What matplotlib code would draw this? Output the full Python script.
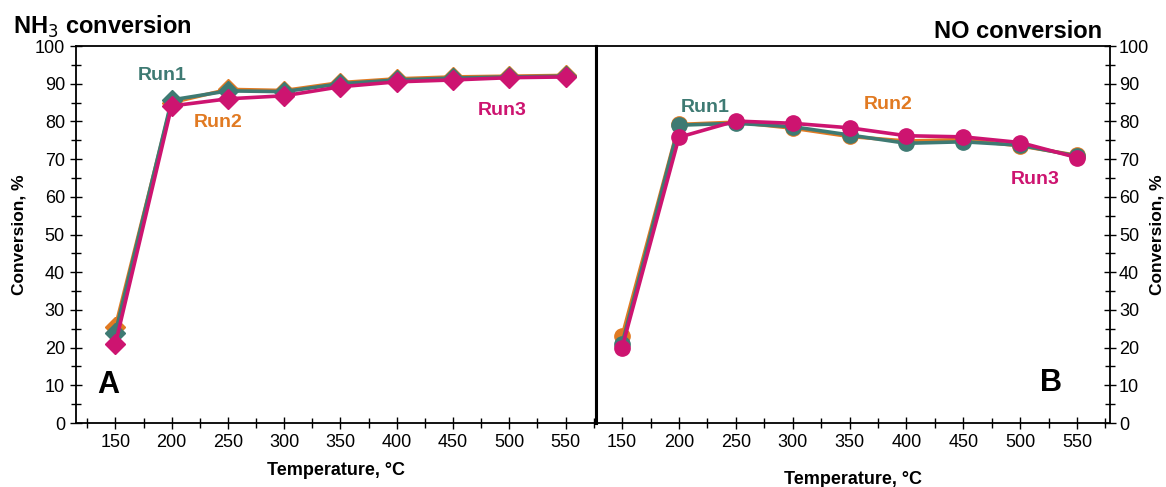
import matplotlib.pyplot as plt
from matplotlib.ticker import MultipleLocator

temps = [150, 200, 250, 300, 350, 400, 450, 500, 550]

nh3_run1 = [24.0, 85.7, 88.1, 87.9, 90.0, 91.0, 91.5, 91.8, 92.0]
nh3_run2 = [25.5, 85.0, 88.5, 88.2, 90.3, 91.3, 91.8, 92.0, 92.2]
nh3_run3 = [21.0, 84.1, 86.0, 86.8, 89.2, 90.5, 91.0, 91.6, 91.8]

no_run1 = [21.0, 79.0, 79.5, 78.6, 76.4, 74.2, 74.6, 73.7, 70.8]
no_run2 = [23.0, 79.2, 79.8, 78.2, 76.0, 74.8, 75.2, 73.5, 71.0]
no_run3 = [20.0, 75.8, 80.1, 79.5, 78.3, 76.2, 75.9, 74.4, 70.4]

run_labels = ["Run1", "Run2", "Run3"]

TEAL = "#3e7a73"
ORANGE = "#e17a22"
MAGENTA = "#cd1470"

plt.rcParams["font.family"] = ["Liberation Sans", "DejaVu Sans"]
BOLD = ["Liberation Sans", "DejaVu Sans"]

fig = plt.figure(figsize=(11.66, 4.87), dpi=100)
ax_a = fig.add_axes([0.0652, 0.1314, 0.4459, 0.7741])
ax_b = fig.add_axes([0.5111, 0.1314, 0.4409, 0.7741])


def style_axis(ax, side):
    ax.set_ylim(0, 100)
    ax.yaxis.set_major_locator(MultipleLocator(10))
    ax.yaxis.set_minor_locator(MultipleLocator(5))
    ax.xaxis.set_major_locator(MultipleLocator(50))
    ax.xaxis.set_minor_locator(MultipleLocator(25))
    for s in ax.spines.values():
        s.set_linewidth(1.3)
    ax.tick_params(axis="both", which="both", direction="inout",
                   width=1.0, labelsize=13)
    ax.tick_params(axis="both", which="major", length=9)
    ax.tick_params(axis="both", which="minor", length=7)
    if side == "right":
        ax.yaxis.tick_right()
        ax.yaxis.set_label_position("right")
        ax.spines["left"].set_linewidth(2.2)
        ax.tick_params(axis="y", which="both", pad=2)
        pad = 0
    else:
        ax.spines["right"].set_linewidth(2.2)
        pad = 6
    ax.set_ylabel("Conversion, %", fontsize=12.5, fontweight="bold", family=BOLD,
                  rotation=90, labelpad=pad)


# panel A
ax_a.set_xlim(115, 577)
style_axis(ax_a, "left")
for vals, c in zip([nh3_run2, nh3_run1, nh3_run3], [ORANGE, TEAL, MAGENTA]):
    ax_a.plot(temps, vals, color=c, lw=2.6, marker="D", markersize=10,
              markeredgecolor=c)
ax_a.set_xlabel("Temperature, °C", fontsize=13, fontweight="bold", family=BOLD,
                labelpad=8)
ax_a.text(192, 92.3, run_labels[0], color=TEAL, fontsize=14, fontweight="bold",
          family=BOLD, ha="center", va="center")
ax_a.text(241, 79.8, run_labels[1], color=ORANGE, fontsize=14, fontweight="bold",
          family=BOLD, ha="center", va="center")
ax_a.text(494, 83, run_labels[2], color=MAGENTA, fontsize=14, fontweight="bold",
          family=BOLD, ha="center", va="center")
ax_a.text(144, 10, "A", fontsize=22, fontweight="bold", family=BOLD,
          ha="center", va="center")
fig.text(0.011, 0.945, "NH$_3$ conversion", fontsize=17, fontweight="bold",
         family=BOLD, ha="left", va="center")

# panel B
ax_b.set_xlim(127, 579)
style_axis(ax_b, "right")
for vals, c in zip([no_run2, no_run1, no_run3], [ORANGE, TEAL, MAGENTA]):
    ax_b.plot(temps, vals, color=c, lw=2.6, marker="o", markersize=11,
              markeredgecolor=c)
ax_b.set_xlabel("Temperature, °C", fontsize=13, fontweight="bold", family=BOLD,
                labelpad=14)
ax_b.text(223, 83.6, run_labels[0], color=TEAL, fontsize=14, fontweight="bold",
          family=BOLD, ha="center", va="center")
ax_b.text(384, 84.4, run_labels[1], color=ORANGE, fontsize=14, fontweight="bold",
          family=BOLD, ha="center", va="center")
ax_b.text(513, 64.5, run_labels[2], color=MAGENTA, fontsize=14, fontweight="bold",
          family=BOLD, ha="center", va="center")
ax_b.text(527, 10.5, "B", fontsize=22, fontweight="bold", family=BOLD,
          ha="center", va="center")
fig.text(0.945, 0.935, "NO conversion", fontsize=17, fontweight="bold",
         family=BOLD, ha="right", va="center")

fig.savefig("out.png", dpi=100)
